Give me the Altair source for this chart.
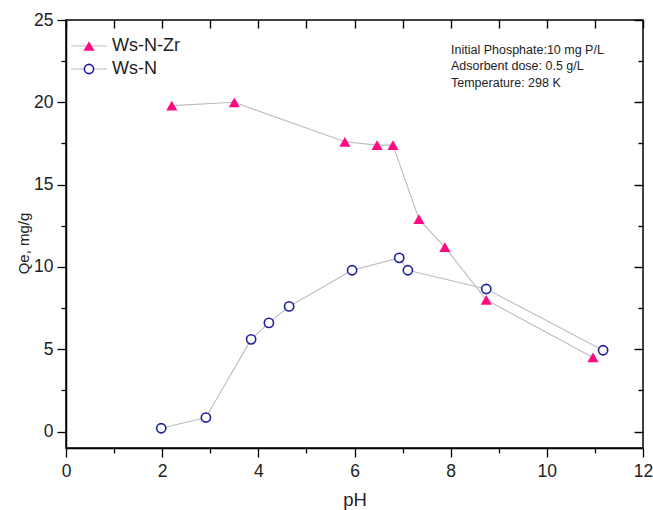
import altair as alt
import pandas as pd

# Phosphate uptake vs. pH for the two adsorbents
ph_zr = [2.20, 3.50, 5.80, 6.47, 6.80, 7.34, 7.88, 8.74, 10.96]
qe_zr = [19.8, 20.0, 17.6, 17.4, 17.4, 12.9, 11.2, 8.0, 4.5]

ph_n = [1.98, 2.91, 3.85, 4.22, 4.64, 5.95, 6.93, 7.11, 8.74, 11.17]
qe_n = [0.2, 0.85, 5.6, 6.6, 7.6, 9.8, 10.55, 9.8, 8.66, 4.94]

x_ticks = list(range(0, 13))
y_ticks = [0, 2.5, 5, 7.5, 10, 12.5, 15, 17.5, 20, 22.5, 25]

notes = ["Initial Phosphate:10 mg P/L", "Adsorbent dose: 0.5 g/L", "Temperature: 298 K"]
series_names = ["Ws-N-Zr", "Ws-N"]

PINK = "#FF0A80"
BLUE = "#1E1EA0"
GREY = "#BDBDBD"
FONT = "Liberation Sans"
W, H = 577, 428

zr = pd.DataFrame({"pH": ph_zr, "Qe": qe_zr})
wn = pd.DataFrame({"pH": ph_n, "Qe": qe_n})

xscale = alt.Scale(domain=[0, 12], nice=False, zero=False)
yscale = alt.Scale(domain=[-1, 25], nice=False, zero=False)

X_MAJOR = "datum.value % 2 === 0"
Y_MAJOR = "datum.value % 5 === 0"

x_axis = alt.Axis(
    orient="bottom", values=x_ticks,
    labelExpr=f"{X_MAJOR} ? datum.label : ''",
    tickSize={"condition": {"test": X_MAJOR, "value": 9}, "value": 5},
    tickColor="black", tickWidth=1.3, domainColor="black", domainWidth=1.5,
    labelFont=FONT, labelFontSize=17.5, labelColor="#222", labelPadding=5,
    labelFlush=False,
    title="pH", titleFont=FONT, titleFontSize=18.5, titleFontWeight="normal",
    titleColor="#222", titleY=57, titleBaseline="alphabetic", grid=False,
)
y_axis = alt.Axis(
    orient="left", values=y_ticks,
    labelExpr=f"{Y_MAJOR} ? datum.label : ''",
    tickSize={"condition": {"test": Y_MAJOR, "value": 9}, "value": 5},
    tickColor="black", tickWidth=1.3, domainColor="black", domainWidth=1.5,
    labelFont=FONT, labelFontSize=17.5, labelColor="#222", labelPadding=4,
    labelFlush=False,
    title="Qe, mg/g", titleFont=FONT, titleFontSize=15, titleFontWeight="normal",
    titleColor="#222", titleX=-43, titleY=223, titleBaseline="middle",
    titleAlign="center", grid=False,
)
# Mirrored frame axes: ticks only, pointing into the plot
top_axis = alt.Axis(
    orient="top", values=x_ticks, labels=False, domain=False, title=None,
    tickSize={"condition": {"test": X_MAJOR, "value": -8}, "value": -8},
    tickColor="black", tickWidth=1.4, grid=False,
)
right_axis = alt.Axis(
    orient="right", values=y_ticks, labels=False, domain=False, title=None,
    tickSize={"condition": {"test": Y_MAJOR, "value": -9}, "value": -5},
    tickColor="black", tickWidth=1.4, grid=False,
)

xs = alt.X("pH:Q", scale=xscale, axis=None)
ys = alt.Y("Qe:Q", scale=yscale, axis=None)

frame_bl = alt.Chart(zr).mark_point(opacity=0).encode(
    x=alt.X("pH:Q", scale=xscale, axis=x_axis),
    y=alt.Y("Qe:Q", scale=yscale, axis=y_axis),
)
frame_tr = alt.Chart(zr).mark_point(opacity=0).encode(
    x=alt.X("pH:Q", scale=xscale, axis=top_axis),
    y=alt.Y("Qe:Q", scale=yscale, axis=right_axis),
)

line_zr = alt.Chart(zr).mark_line(color=GREY, strokeWidth=1.1).encode(x=xs, y=ys)
line_n = alt.Chart(wn).mark_line(color=GREY, strokeWidth=1.1).encode(x=xs, y=ys)

pts_zr = alt.Chart(zr).mark_point(
    shape="triangle-up", filled=True, color=PINK, size=125, opacity=1
).encode(x=xs, y=ys)
pts_n = alt.Chart(wn).mark_point(
    shape="circle", filled=False, fill="white", fillOpacity=1, stroke=BLUE,
    strokeWidth=1.6, size=85, opacity=1
).encode(x=xs, y=ys)

# Legend drawn inside the plot, top-left
leg_df = pd.DataFrame({"name": series_names, "row": [0, 1]})
leg_base = alt.Chart(leg_df).transform_calculate(ypix="26 + datum.row * 23")
leg_lines = leg_base.mark_rule(color=GREY, strokeWidth=1.1).encode(
    x=alt.value(5), x2=alt.value(41), y=alt.Y("ypix:Q", scale=None, axis=None)
)
leg_tri = leg_base.transform_filter("datum.row === 0").mark_point(
    shape="triangle-up", filled=True, color=PINK, size=125, opacity=1
).encode(x=alt.value(23), y=alt.Y("ypix:Q", scale=None, axis=None))
leg_circ = leg_base.transform_filter("datum.row === 1").mark_point(
    shape="circle", filled=False, fill="white", fillOpacity=1, stroke=BLUE,
    strokeWidth=1.6, size=85, opacity=1
).encode(x=alt.value(23), y=alt.Y("ypix:Q", scale=None, axis=None))
leg_text = leg_base.mark_text(
    align="left", baseline="middle", font=FONT, fontSize=18, color="#222"
).encode(x=alt.value(46), y=alt.Y("ypix:Q", scale=None, axis=None), text="name:N")

# Experimental conditions, top-right
notes_df = pd.DataFrame({"txt": notes, "row": [0, 1, 2]})
notes_text = alt.Chart(notes_df).transform_calculate(
    ypix="29.5 + datum.row * 16.5"
).mark_text(align="left", baseline="middle", font=FONT, fontSize=12.5, color="#222").encode(
    x=alt.value(385), y=alt.Y("ypix:Q", scale=None, axis=None), text="txt:N"
)

chart = alt.layer(
    frame_bl, frame_tr, line_zr, line_n, pts_zr, pts_n,
    leg_lines, leg_tri, leg_circ, leg_text, notes_text
).resolve_axis(
    x="independent", y="independent"
).properties(
    width=W, height=H,
    autosize=alt.AutoSizeParams(type="none"),
    padding={"left": 66, "top": 20, "right": 10, "bottom": 62},
    background="white",
).configure_view(stroke="black", strokeWidth=1.5)

chart.save("out.html", embed_options={"renderer": "svg", "actions": False})
